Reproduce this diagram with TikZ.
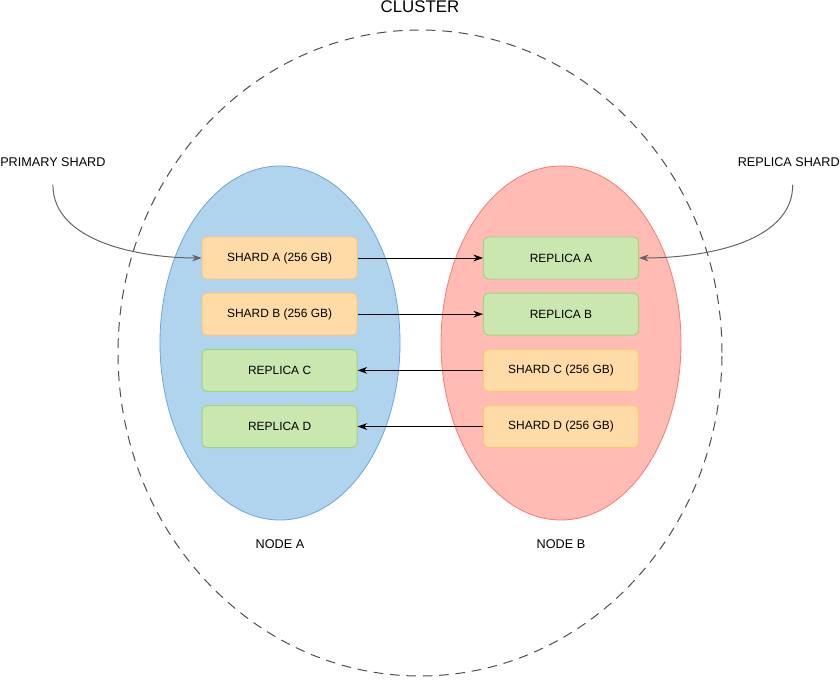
\documentclass[tikz,border=0pt]{standalone}
\usepackage{fontspec}
\setmainfont{Liberation Sans}
\usetikzlibrary{shapes.geometric, arrows.meta, positioning, calc}
\definecolor{nodeBlue}{RGB}{177,212,238}
\definecolor{nodeBlueLine}{RGB}{111,168,220}
\definecolor{nodeRed}{RGB}{255,187,180}
\definecolor{nodeRedLine}{RGB}{242,128,120}
\definecolor{shardOrange}{RGB}{255,219,168}
\definecolor{shardOrangeLine}{RGB}{255,198,115}
\definecolor{replicaGreen}{RGB}{202,231,176}
\definecolor{replicaGreenLine}{RGB}{160,214,122}
\definecolor{curveGray}{RGB}{100,100,100}

\begin{document}
\begin{tikzpicture}[
				node distance=0.33cm,
				shardbox/.style={draw=shardOrangeLine, rounded corners=1.2mm, fill=shardOrange, minimum width=3.875cm, minimum height=1.05cm, font=\fontsize{8.5}{10}\selectfont, line width=0.7pt},
				replicabox/.style={shardbox, draw=replicaGreenLine, fill=replicaGreen},
				hostnode/.style={ellipse, minimum width=6cm, minimum height=8.85cm, inner sep=0pt, line width=0.6pt},
				lbl/.style={font=\fontsize{9}{11}\selectfont},
				arr/.style={-{Stealth[length=2.4mm, width=1.7mm]}, line width=0.7pt, black},
				curvearr/.style={-{Stealth[length=2.4mm, width=1.7mm]}, line width=0.7pt, curveGray}
			]
				\useasboundingbox (0,0) rectangle (21,17);

				% cluster and the two hosts
				\node[ellipse, draw=black!70, dash pattern=on 2.4mm off 1.7mm, line width=0.7pt, minimum width=15.1cm, minimum height=16.15cm, inner sep=0pt] (cluster) at (10.5,8.175) {};
				\node[hostnode, draw=nodeBlueLine, fill=nodeBlue] (nodeA) at (7.0,8.425) {};
				\node[hostnode, draw=nodeRedLine, fill=nodeRed] (nodeB) at (14.025,8.425) {};

				\node[font=\fontsize{12}{14}\selectfont, above=0.3cm of cluster] (clusterlbl) {CLUSTER};
				\node[lbl, below=0.35cm of nodeA] (nodeAlbl) {NODE A};
				\node[lbl, below=0.35cm of nodeB] (nodeBlbl) {NODE B};

				% shards on node A
				\node[shardbox] (shardA) at (6.99,10.55) {SHARD A (256 GB)};
				\node[shardbox, below=of shardA] (shardB) {SHARD B (256 GB)};
				\node[replicabox, below=of shardB] (replicaC) {REPLICA C};
				\node[replicabox, below=of replicaC] (replicaD) {REPLICA D};

				% shards on node B
				\node[replicabox] (replicaA) at (14.025,10.55) {REPLICA A};
				\node[replicabox, below=of replicaA] (replicaB) {REPLICA B};
				\node[shardbox, below=of replicaB] (shardC) {SHARD C (256 GB)};
				\node[shardbox, below=of shardC] (shardD) {SHARD D (256 GB)};

				\draw[arr] (shardA) -- (replicaA);
				\draw[arr] (shardB) -- (replicaB);
				\draw[arr] (shardC) -- (replicaC);
				\draw[arr] (shardD) -- (replicaD);

				% legend labels
				\node[lbl, anchor=west, inner sep=0pt] (primary) at (0,12.95) {PRIMARY SHARD};
				\node[lbl, anchor=east, inner sep=0pt] (replica) at (21,12.95) {REPLICA SHARD};

				\draw[curvearr] ([yshift=-4.5mm]primary.south) to[out=-90, in=180, looseness=0.9] (shardA.west);
				\draw[curvearr] ([xshift=1mm, yshift=-4.5mm]replica.south) to[out=-90, in=0, looseness=0.9] (replicaA.east);
			\end{tikzpicture}
\end{document}
